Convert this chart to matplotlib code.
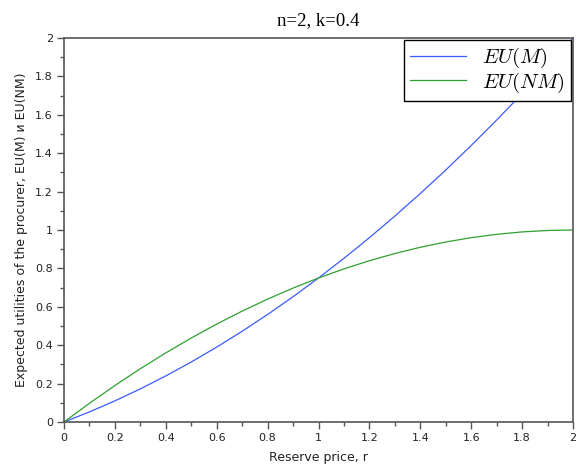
import matplotlib
matplotlib.use("Agg")
import matplotlib.pyplot as plt
from matplotlib.ticker import MultipleLocator

r = [0.0, 0.1, 0.2, 0.3, 0.4, 0.5, 0.6, 0.7, 0.8, 0.9, 1.0,
     1.1, 1.2, 1.3, 1.4, 1.5, 1.6, 1.7, 1.8, 1.9, 2.0]
eu_m = [0.0, 0.0525, 0.11, 0.1725, 0.24, 0.3125, 0.39, 0.4725, 0.56, 0.6525, 0.75,
        0.8525, 0.96, 1.0725, 1.19, 1.3125, 1.44, 1.5725, 1.71, 1.8525, 2.0]
eu_nm = [0.0, 0.0975, 0.19, 0.2775, 0.36, 0.4375, 0.51, 0.5775, 0.64, 0.6975, 0.75,
         0.7975, 0.84, 0.8775, 0.91, 0.9375, 0.96, 0.9775, 0.99, 0.9975, 1.0]
tick_vals = [0, 0.2, 0.4, 0.6, 0.8, 1, 1.2, 1.4, 1.6, 1.8, 2]
tick_labels = ['0', '0.2', '0.4', '0.6', '0.8', '1', '1.2', '1.4', '1.6', '1.8', '2']

plt.rcParams['mathtext.fontset'] = 'cm'
fig = plt.figure(figsize=(5.79, 4.72), dpi=100)
ax = fig.add_axes([64/579, 50/472, 509/579, 384/472])

ax.plot(r, eu_m, color='#3b5bff', lw=0.9, label=r'$EU(M)$')
ax.plot(r, eu_nm, color='#2ea02e', lw=0.9, label=r'$EU(NM)$')

ax.set_xlim(0, 2)
ax.set_ylim(0, 2)
ax.set_xticks(tick_vals)
ax.set_xticklabels(tick_labels)
ax.set_yticks(tick_vals)
ax.set_yticklabels(tick_labels)
ax.xaxis.set_minor_locator(MultipleLocator(0.1))
ax.yaxis.set_minor_locator(MultipleLocator(0.1))
ax.tick_params(which='major', direction='out', length=5, width=1, color='#555555',
               labelsize=8, pad=3, labelcolor='#222222')
ax.tick_params(which='minor', direction='out', length=3, width=1, color='#555555')
for s in ax.spines.values():
    s.set_color('#555555')
    s.set_linewidth(1.2)

ax.set_xlabel('Reserve price, r', fontsize=9, color='#222222', labelpad=6)
ax.set_ylabel('Expected utilities of the procurer, EU(M) и EU(NM)', fontsize=9,
              color='#222222', labelpad=5)
ax.set_title('n=2, k=0.4', fontsize=13.5, family='Liberation Serif', pad=9)

leg = ax.legend(loc='upper right', fontsize=15, fancybox=False, framealpha=1,
                edgecolor='black', borderaxespad=0.1, handlelength=2.7,
                borderpad=0.3, labelspacing=0.0, handletextpad=0.75)
leg.get_frame().set_linewidth(1.0)

fig.savefig('out.png', dpi=100)
